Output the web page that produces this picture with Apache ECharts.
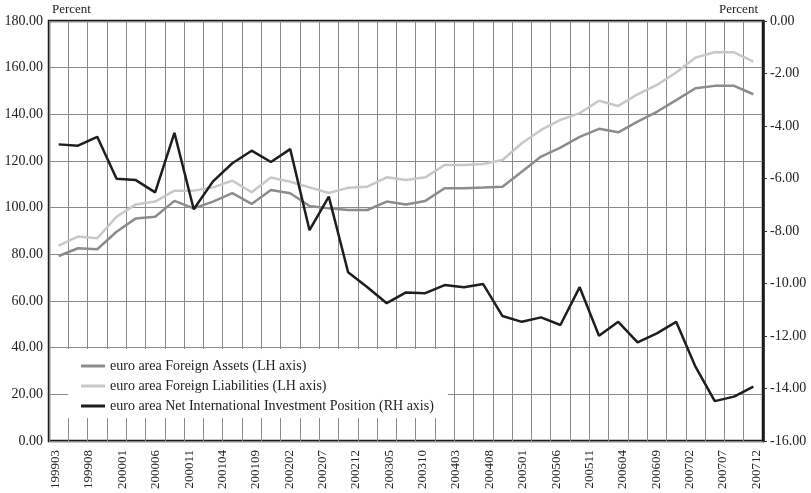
<!DOCTYPE html>
<html>
<head>
<meta charset="utf-8">
<title>euro area IIP</title>
<script src="https://cdn.jsdelivr.net/npm/echarts@6.0.0/dist/echarts.min.js"></script>
<style>
body { margin: 0; background: #fff; }
#main { width: 811px; height: 493px; }
</style>
</head>
<body>
<div id="main"></div>
<script>
// quarterly observations (end month of quarter)
var quarters = ['199812', '199903', '199906', '199909', '199912', '200003', '200006', '200009', '200012',
	'200103', '200106', '200109', '200112', '200203', '200206', '200209', '200212', '200303', '200306',
	'200309', '200312', '200403', '200406', '200409', '200412', '200503', '200506', '200509', '200512',
	'200603', '200606', '200609', '200612', '200703', '200706', '200709', '200712'];

// percent of GDP, left axis
var foreignAssets = [79.3, 82.6, 82.2, 89.7, 95.4, 96.1, 102.9, 99.7, 102.6, 106.2, 101.6, 107.6, 106.2,
	100.7, 99.7, 99.0, 99.0, 102.6, 101.4, 102.9, 108.3, 108.3, 108.6, 109.0, 115.4, 121.9, 125.7,
	130.3, 133.8, 132.3, 136.9, 141.1, 146.1, 151.2, 152.2, 152.2, 148.6];
var foreignLiabilities = [83.7, 87.6, 86.9, 96.1, 101.4, 102.6, 107.3, 107.3, 108.7, 111.6, 106.6, 112.9,
	111.1, 108.7, 106.3, 108.5, 109.0, 113.0, 111.9, 113.0, 118.3, 118.3, 118.7, 120.4, 127.6, 133.3,
	137.6, 140.5, 145.8, 143.6, 148.6, 152.6, 157.9, 164.3, 166.6, 166.6, 162.6];
// percent of GDP, right axis
var netPosition = [-4.70, -4.75, -4.41, -6.01, -6.06, -6.53, -4.26, -7.17, -6.11, -5.42, -4.94, -5.37,
	-4.88, -7.97, -6.69, -9.57, -10.14, -10.75, -10.34, -10.37, -10.06, -10.14, -10.02, -11.24, -11.46,
	-11.29, -11.58, -10.14, -11.99, -11.46, -12.24, -11.90, -11.46, -13.17, -14.48, -14.31, -13.93];

// tick labels shown under the chart (every 5 months)
var tickLabels = ['199903', '199908', '200001', '200006', '200011', '200104', '200109', '200202',
	'200207', '200212', '200305', '200310', '200403', '200408', '200501', '200506', '200511', '200604',
	'200609', '200702', '200707', '200712'];

// monthly axis for the labels, 199902 .. 200801
var months = [];
for (let y = 1999; y <= 2008; y++) {
	for (let m = 1; m <= 12; m++) {
		let s = y + (m < 10 ? '0' : '') + m;
		if (s >= '199902' && s <= '200801') months.push(s);
	}
}

var font = "'Liberation Serif', 'DejaVu Serif', serif";
var txt = '#222';
var fmt = function (v) { return v.toFixed(2); };

var chart = echarts.init(document.getElementById('main'));
chart.setOption({
	animation: false,
	textStyle: { fontFamily: font },
	grid: {
		left: 49, right: 48, top: 21, bottom: 52,
		show: true,
		borderColor: '#1a1a1a',
		borderWidth: 2.5,
		outerBoundsMode: 'none'
	},
	legend: {
		orient: 'vertical',
		left: 68, top: 349,
		padding: [10, 14, 5, 13],
		backgroundColor: '#fff',
		icon: 'rect',
		itemWidth: 24,
		itemHeight: 3,
		itemGap: 6,
		textStyle: { fontFamily: font, fontSize: 14, color: txt },
		data: ['euro area Foreign Assets (LH axis)', 'euro area Foreign Liabilities (LH axis)',
			'euro area Net International Investment Position (RH axis)']
	},
	xAxis: [{
		type: 'category',
		data: quarters,
		boundaryGap: true,
		position: 'bottom',
		axisLine: { show: false },
		axisTick: { show: false },
		axisLabel: { show: false },
		splitLine: { show: true, interval: 0, lineStyle: { color: '#8a8a8a', width: 1 } }
	}, {
		type: 'category',
		data: months,
		boundaryGap: false,
		position: 'bottom',
		axisLine: { show: false },
		axisTick: { show: false },
		splitLine: { show: false },
		axisLabel: {
			rotate: 90,
			margin: 9,
			fontSize: 13,
			color: txt,
			fontFamily: font,
			interval: function (idx, val) { return tickLabels.indexOf(val) >= 0; }
		}
	}],
	yAxis: [{
		type: 'value',
		min: 0, max: 180, interval: 20,
		name: 'Percent',
		nameLocation: 'end',
		nameGap: 5,
		nameTextStyle: { align: 'left', fontSize: 13, color: txt, fontFamily: font, padding: [0, 0, 0, 3] },
		axisLine: { show: false },
		axisTick: { show: false },
		axisLabel: { margin: 6, fontSize: 14, color: txt, fontFamily: font, formatter: fmt },
		splitLine: { show: true, lineStyle: { color: '#8a8a8a', width: 1 } }
	}, {
		type: 'value',
		min: -16, max: 0, interval: 2,
		position: 'right',
		name: 'Percent',
		nameLocation: 'end',
		nameGap: 5,
		nameTextStyle: { align: 'right', fontSize: 13, color: txt, fontFamily: font, padding: [0, 5, 0, 0] },
		axisLine: { show: true, lineStyle: { color: '#1a1a1a', width: 2.5 } },
		axisTick: { show: true, inside: false, length: 4, lineStyle: { color: '#333', width: 1 } },
		axisLabel: { margin: 7, fontSize: 14, color: txt, fontFamily: font, formatter: fmt },
		splitLine: { show: false }
	}],
	series: [{
		name: 'euro area Foreign Assets (LH axis)',
		type: 'line',
		yAxisIndex: 0,
		data: foreignAssets,
		symbol: 'none',
		color: '#8c8c8c',
		lineStyle: { width: 2.5, color: '#8c8c8c' }
	}, {
		name: 'euro area Foreign Liabilities (LH axis)',
		type: 'line',
		yAxisIndex: 0,
		data: foreignLiabilities,
		symbol: 'none',
		color: '#c8c8c8',
		lineStyle: { width: 2.5, color: '#c8c8c8' }
	}, {
		name: 'euro area Net International Investment Position (RH axis)',
		type: 'line',
		yAxisIndex: 1,
		data: netPosition,
		symbol: 'none',
		color: '#1e1e1e',
		lineStyle: { width: 2.5, color: '#1e1e1e' }
	}]
});
</script>
</body>
</html>
